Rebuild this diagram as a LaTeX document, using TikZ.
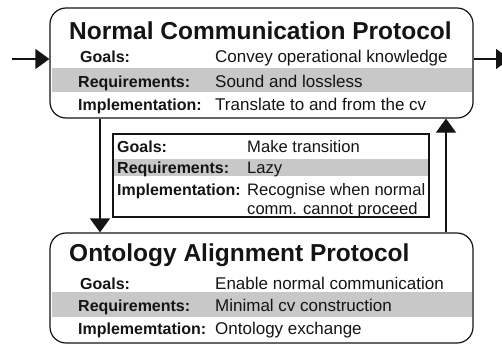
\documentclass[tikz,border=0pt]{standalone}
\usepackage{fontspec}
\setmainfont{Liberation Sans}
\usetikzlibrary{arrows.meta}
\definecolor{band}{RGB}{200,200,200}
\definecolor{ink}{RGB}{20,20,20}
\begin{document}
\begin{tikzpicture}[x=1pt,y=-1pt,
  protobox/.style={draw=ink, line width=1.2pt, rounded corners=16pt, minimum width=423pt, minimum height=110pt, inner sep=0},
  trbox/.style={draw=ink, line width=1.8pt, minimum width=316pt, minimum height=83pt, inner sep=0},
  lbl/.style={anchor=base west, text=ink, font=\fontsize{16}{19}\selectfont\bfseries, inner sep=0},
  val/.style={anchor=base west, text=ink, font=\fontsize{17}{20}\selectfont, inner sep=0},
  sval/.style={anchor=base west, text=ink, font=\fontsize{16.6}{20}\selectfont, inner sep=0},
  ttl/.style={anchor=base west, text=ink, font=\fontsize{24.5}{29}\selectfont\bfseries, inner sep=0},
  flow/.style={draw=ink, -{Triangle[length=14pt,width=20pt]}, line width=1.2pt}]
\useasboundingbox (0,0) rectangle (502,345);
% grey bands
\fill[band] (52,68) rectangle (472,92);
\fill[band] (113,159) rectangle (429,176);
\fill[band] (52,292) rectangle (472,317);
% boxes
\node[protobox] (ncp) at (261.5,63) {};
\node[protobox] (oap) at (261.5,288) {};
\node[trbox] (tr) at (271,175.5) {};
% top box texts
\node[ttl] (ncpT) at (69,39) {Normal Communication Protocol};
\node[lbl] (ncpG) at (80,63) {Goals:};
\node[val] (ncpGv) at (215,63) {Convey operational knowledge};
\node[lbl] (ncpR) at (78,87) {Requirements:};
\node[val] (ncpRv) at (215,87) {Sound and lossless};
\node[lbl] (ncpI) at (78,110) {Implementation:};
\node[val] (ncpIv) at (215,110) {Translate to and from the cv};
% transition box texts
\node[lbl] (trG) at (117,152) {Goals:};
\node[sval] (trGv) at (247,152) {Make transition};
\node[lbl] (trR) at (117,173) {Requirements:};
\node[sval] (trRv) at (247,173) {Lazy};
\node[lbl] (trI) at (117,195) {Implementation:};
\node[sval] (trIv) at (247,195) {Recognise when normal};
\node[sval] (trIv2) at (247,214) {comm. cannot proceed};
% bottom box texts
\node[ttl] (oapT) at (69,261) {Ontology Alignment Protocol};
\node[lbl] (oapG) at (80,289) {Goals:};
\node[val] (oapGv) at (215,289) {Enable normal communication};
\node[lbl] (oapR) at (78,311) {Requirements:};
\node[val] (oapRv) at (215,311) {Minimal cv construction};
\node[lbl] (oapI) at (78,334) {Implememtation:};
\node[val] (oapIv) at (215,334) {Ontology exchange};
% connectors
\coordinate (in) at (12,59);
\coordinate (out) at (510,59);
\coordinate (dl) at (100,0);
\coordinate (ul) at (446,0);
\draw[flow] (in) -- (in -| ncp.west);
\draw[flow] (ncp.east |- out) -- (out);
\draw[flow] (ncp.south -| dl) -- (oap.north -| dl);
\draw[flow] (oap.north -| ul) -- (ncp.south -| ul);
\end{tikzpicture}
\end{document}
